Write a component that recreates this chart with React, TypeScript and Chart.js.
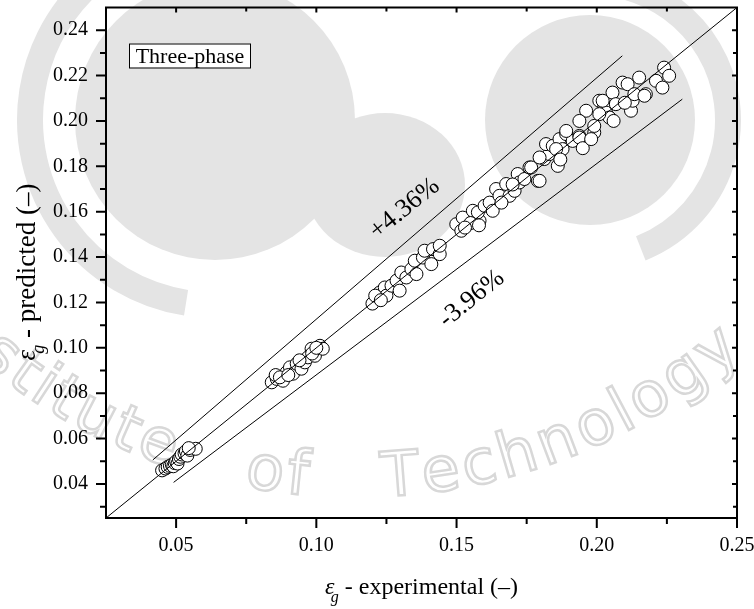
import React, { useEffect, useRef } from "react";
import { Chart, registerables } from "chart.js";

Chart.register(...registerables);

const SERIF = '"Liberation Serif", "Times New Roman", serif';

const xMin = 0.025;
const xMax = 0.25;
const yMin = 0.025;
const yMax = 0.25;
const xMajorTicks = [0.05, 0.1, 0.15, 0.2, 0.25];
const xMinorTicks = [0.075, 0.125, 0.175, 0.225];
const yMajorTicks = [0.04, 0.06, 0.08, 0.1, 0.12, 0.14, 0.16, 0.18, 0.2, 0.22, 0.24];
const yMinorTicks = [0.03, 0.05, 0.07, 0.09, 0.11, 0.13, 0.15, 0.17, 0.19, 0.21, 0.23];

const experimental = [
  0.045, 0.0462, 0.047, 0.0478, 0.0485, 0.049, 0.0495, 0.05, 0.0505, 0.051, 0.0515, 0.052, 0.053, 0.0535, 0.054, 0.055, 0.057, 0.0545,
  0.0841, 0.0859, 0.0881, 0.0894, 0.0906, 0.0917, 0.093, 0.0947, 0.0959, 0.097, 0.0983, 0.0995, 0.1013, 0.1023, 0.0855, 0.087, 0.09, 0.094, 0.0985, 0.1,
  0.1214, 0.1226, 0.1244, 0.125, 0.1268, 0.1286, 0.1297, 0.1303, 0.1321, 0.1339, 0.1351, 0.1357, 0.138, 0.1386, 0.141, 0.1416, 0.144, 0.144, 0.12, 0.121, 0.123,
  0.1499, 0.1522, 0.1517, 0.1558, 0.1582, 0.1576, 0.16, 0.1618, 0.1629, 0.1641, 0.1653, 0.1677, 0.1689, 0.1707, 0.1718, 0.1724, 0.1742, 0.176, 0.179, 0.1813,
  0.1831, 0.1861, 0.1819, 0.1843, 0.1867, 0.1878, 0.1891, 0.1914, 0.1938, 0.1991, 0.1991, 0.2009, 0.2027, 0.2033, 0.2045, 0.2056, 0.2068, 0.2092, 0.211, 0.2122,
  0.2128, 0.2134, 0.2151, 0.2175, 0.2211, 0.2234, 0.224, 0.2258, 0.1962, 0.1938, 0.1891, 0.1938, 0.1855, 0.1796, 0.1766, 0.1796, 0.2021, 0.2009, 0.217,
  0.187, 0.195, 0.198, 0.206, 0.21, 0.17, 0.166, 0.155, 0.158, 0.153,
];

const predicted = [
  0.046, 0.0468, 0.0475, 0.048, 0.0485, 0.0478, 0.0492, 0.05, 0.049, 0.051, 0.052, 0.053, 0.0535, 0.0545, 0.0525, 0.055, 0.0555, 0.0558,
  0.0848, 0.0863, 0.0855, 0.0892, 0.0914, 0.0886, 0.093, 0.0908, 0.0936, 0.0958, 0.0996, 0.0965, 0.1009, 0.0996, 0.088, 0.087, 0.088, 0.0945, 0.0975, 0.1,
  0.1215, 0.1244, 0.1266, 0.123, 0.1274, 0.1296, 0.1252, 0.1332, 0.131, 0.1347, 0.1384, 0.1325, 0.1398, 0.1428, 0.1369, 0.1435, 0.1413, 0.145, 0.1195, 0.123, 0.121,
  0.1545, 0.1574, 0.1516, 0.1604, 0.156, 0.1597, 0.1626, 0.164, 0.1604, 0.17, 0.167, 0.1722, 0.167, 0.1692, 0.1766, 0.1729, 0.1744, 0.1795, 0.1736, 0.1832,
  0.1854, 0.1802, 0.1898, 0.189, 0.192, 0.1876, 0.1942, 0.1912, 0.1934, 0.1949, 0.1978, 0.2089, 0.2067, 0.2037, 0.2015, 0.2125, 0.2074, 0.2169, 0.2162, 0.2045,
  0.2089, 0.2118, 0.2191, 0.2118, 0.2177, 0.2147, 0.2235, 0.2199, 0.2045, 0.2, 0.1956, 0.1927, 0.1876, 0.1839, 0.1795, 0.1736, 0.2089, 0.203, 0.2111,
  0.183, 0.188, 0.192, 0.2, 0.208, 0.172, 0.164, 0.155, 0.154, 0.153,
];

const parityX = [0.025, 0.25];
const parityY = [0.025, 0.25];
const upperX = [0.0417, 0.2091];
const upperY = [0.0506, 0.2287];
const lowerX = [0.0491, 0.2305];
const lowerY = [0.0407, 0.2096];

const upperLabel = "+4.36%";
const upperLabelAt = [0.1315, 0.1613];
const lowerLabel = "-3.96%";
const lowerLabelAt = [0.1554, 0.1216];
const legendText = "Three-phase";
const xTitleRest = " - experimental (\u2013)";
const yTitleRest = " - predicted (\u2013)";
const watermarkText = "Institute of Technology";

const toPts = (xs: number[], ys: number[]) => xs.map((x, i) => ({ x, y: ys[i] }));

function drawEpsTitle(ctx: CanvasRenderingContext2D, rest: string, size: number) {
  const sub = Math.round(size * 0.68);
  ctx.font = `italic ${size}px ${SERIF}`;
  const wEps = ctx.measureText("\u03b5").width;
  ctx.font = `italic ${sub}px ${SERIF}`;
  const wG = ctx.measureText("g").width;
  ctx.font = `${size}px ${SERIF}`;
  const wRest = ctx.measureText(rest).width;
  const adv = wEps + wG * 0.55;
  const total = adv + wRest;
  const x0 = -total / 2;
  ctx.textBaseline = "alphabetic";
  ctx.textAlign = "left";
  ctx.font = `italic ${size}px ${SERIF}`;
  ctx.fillText("\u03b5", x0, 0);
  ctx.font = `italic ${sub}px ${SERIF}`;
  ctx.fillText("g", x0 + wEps - wG * 0.45, size * 0.32);
  ctx.font = `${size}px ${SERIF}`;
  ctx.fillText(rest, x0 + adv, 0);
}

const backgroundPlugin = {
  id: "bgWatermark",
  beforeDraw(chart: any) {
    const { ctx, width, height } = chart;
    ctx.save();
    ctx.fillStyle = "#ffffff";
    ctx.fillRect(0, 0, width, height);
    const g = "#e4e4e4";
    ctx.fillStyle = g;
    ctx.strokeStyle = g;
    ctx.beginPath();
    ctx.arc(215, 120, 140, 0, Math.PI * 2);
    ctx.fill();
    ctx.beginPath();
    ctx.arc(590, 120, 105, 0, Math.PI * 2);
    ctx.fill();
    ctx.beginPath();
    ctx.ellipse(385, 185, 80, 72, 0, 0, Math.PI * 2);
    ctx.fill();
    ctx.lineWidth = 26;
    ctx.beginPath();
    ctx.arc(215, 120, 185, Math.PI * 0.55, Math.PI * 1.45);
    ctx.stroke();
    ctx.beginPath();
    ctx.arc(590, 120, 138, -Math.PI * 0.42, Math.PI * 0.38);
    ctx.stroke();
    const cx = 356, cy = -91, r = 572;
    ctx.font = `62px "DejaVu Sans", sans-serif`;
    ctx.lineWidth = 2.5;
    ctx.strokeStyle = "#d8d8d8";
    ctx.textAlign = "center";
    ctx.textBaseline = "middle";
    const spaceW = 70;
    const widthOf = (ch: string) => (ch === " " ? spaceW : ctx.measureText(ch).width + 3);
    const tIdx = watermarkText.indexOf("T");
    let before = 0;
    for (const ch of watermarkText.slice(0, tIdx)) before += widthOf(ch);
    let ang = (87.6 * Math.PI) / 180 + before / r;
    for (const ch of watermarkText) {
      const w = widthOf(ch);
      const mid = ang - w / 2 / r;
      const px = cx + r * Math.cos(mid);
      const py = cy + r * Math.sin(mid);
      ctx.save();
      ctx.translate(px, py);
      ctx.rotate(mid - Math.PI / 2);
      if (ch !== " ") ctx.strokeText(ch, 0, 0);
      ctx.restore();
      ang -= w / r;
    }
    ctx.restore();
  },
};

const overlayPlugin = {
  id: "overlay",
  afterDraw(chart: any) {
    const { ctx, chartArea: a, scales } = chart;
    const xs = scales.x;
    const ys = scales.y;
    ctx.save();
    ctx.strokeStyle = "#000";
    ctx.fillStyle = "#000";
    ctx.lineWidth = 2;
    ctx.strokeRect(a.left, a.top, a.right - a.left, a.bottom - a.top);
    ctx.beginPath();
    for (const v of xMajorTicks) {
      const p = xs.getPixelForValue(v);
      ctx.moveTo(p, a.bottom);
      ctx.lineTo(p, a.bottom + 10);
      ctx.moveTo(p, a.top);
      ctx.lineTo(p, a.top + 5);
    }
    for (const v of xMinorTicks) {
      const p = xs.getPixelForValue(v);
      ctx.moveTo(p, a.bottom);
      ctx.lineTo(p, a.bottom + 6);
      ctx.moveTo(p, a.top);
      ctx.lineTo(p, a.top + 4);
    }
    for (const v of yMajorTicks) {
      const p = ys.getPixelForValue(v);
      ctx.moveTo(a.left, p);
      ctx.lineTo(a.left - 10, p);
      ctx.moveTo(a.right, p);
      ctx.lineTo(a.right - 5, p);
    }
    for (const v of yMinorTicks) {
      const p = ys.getPixelForValue(v);
      ctx.moveTo(a.left, p);
      ctx.lineTo(a.left - 6, p);
      ctx.moveTo(a.right, p);
      ctx.lineTo(a.right - 4, p);
    }
    ctx.stroke();

    ctx.lineWidth = 1;
    const bx = a.left + 23, by = a.top + 36, bw = 121, bh = 24;
    ctx.fillStyle = "#fff";
    ctx.fillRect(bx, by, bw, bh);
    ctx.fillStyle = "#000";
    ctx.strokeRect(bx + 0.5, by + 0.5, bw, bh);
    ctx.font = `22px ${SERIF}`;
    ctx.textAlign = "center";
    ctx.textBaseline = "middle";
    ctx.fillText(legendText, bx + bw / 2 + 0.5, by + bh / 2 + 1.5);

    const drawRot = (txt: string, at: number[]) => {
      ctx.save();
      ctx.translate(xs.getPixelForValue(at[0]), ys.getPixelForValue(at[1]));
      ctx.rotate((-39 * Math.PI) / 180);
      ctx.font = `26px ${SERIF}`;
      ctx.textAlign = "center";
      ctx.textBaseline = "middle";
      ctx.fillText(txt, 0, 0);
      ctx.restore();
    };
    drawRot(upperLabel, upperLabelAt);
    drawRot(lowerLabel, lowerLabelAt);

    ctx.save();
    ctx.translate((a.left + a.right) / 2, 594);
    drawEpsTitle(ctx, xTitleRest, 24);
    ctx.restore();
    ctx.save();
    ctx.translate(35, 272);
    ctx.rotate(-Math.PI / 2);
    drawEpsTitle(ctx, yTitleRest, 27);
    ctx.restore();
    ctx.restore();
  },
};

export default function App() {
  const ref = useRef<HTMLCanvasElement | null>(null);
  useEffect(() => {
    document.body.style.margin = "0";
    const canvas = ref.current;
    if (!canvas) return;
    const lineDs = (xs: number[], ys: number[]) => ({
      type: "scatter" as const,
      data: toPts(xs, ys),
      showLine: true,
      borderColor: "#000",
      borderWidth: 1,
      pointRadius: 0,
      fill: false,
      order: 0,
    });
    const chart = new Chart(canvas, {
      type: "scatter",
      data: {
        datasets: [
          lineDs(parityX, parityY),
          lineDs(upperX, upperY),
          lineDs(lowerX, lowerY),
          {
            type: "scatter",
            data: toPts(experimental, predicted),
            pointRadius: 6.5,
            pointBackgroundColor: "#fff",
            pointBorderColor: "#000",
            pointBorderWidth: 1,
            showLine: false,
            order: 1,
          },
        ],
      },
      options: {
        responsive: false,
        animation: false,
        layout: { padding: { top: 6, right: 17, left: 0, bottom: 0 } },
        plugins: { legend: { display: false }, tooltip: { enabled: false } },
        scales: {
          x: {
            type: "linear",
            min: xMin,
            max: xMax,
            grid: { display: false, drawTicks: false },
            border: { display: false },
            ticks: {
              stepSize: 0.025,
              autoSkip: false,
              maxRotation: 0,
              padding: 16,
              color: "#000",
              font: { family: SERIF, size: 20 },
              callback: (v: any) => {
                const k = Math.round(v / 0.05);
                return k >= 1 && Math.abs(v - k * 0.05) < 1e-6 ? (k * 0.05).toFixed(2) : "";
              },
            },
            afterFit: (s: any) => {
              s.height = 91;
              s.paddingLeft = 0;
              s.paddingRight = 0;
            },
          },
          y: {
            type: "linear",
            min: yMin,
            max: yMax,
            grid: { display: false, drawTicks: false },
            border: { display: false },
            ticks: {
              stepSize: 0.01,
              autoSkip: false,
              padding: 18,
              color: "#000",
              font: { family: SERIF, size: 20 },
              callback: (v: any) => {
                const k = Math.round(v * 100);
                return Math.abs(v * 100 - k) < 1e-6 && k % 2 === 0 && k >= 4 && k <= 24 ? (k / 100).toFixed(2) : "";
              },
            },
            afterFit: (s: any) => {
              s.width = 106;
              s.paddingTop = 0;
              s.paddingBottom = 0;
            },
          },
        },
      },
      plugins: [backgroundPlugin, overlayPlugin],
    } as any);
    return () => chart.destroy();
  }, []);
  return (
    <div style={{ width: 754, height: 609 }}>
      <canvas ref={ref} width={754} height={609} style={{ display: "block", width: 754, height: 609 }} />
    </div>
  );
}
